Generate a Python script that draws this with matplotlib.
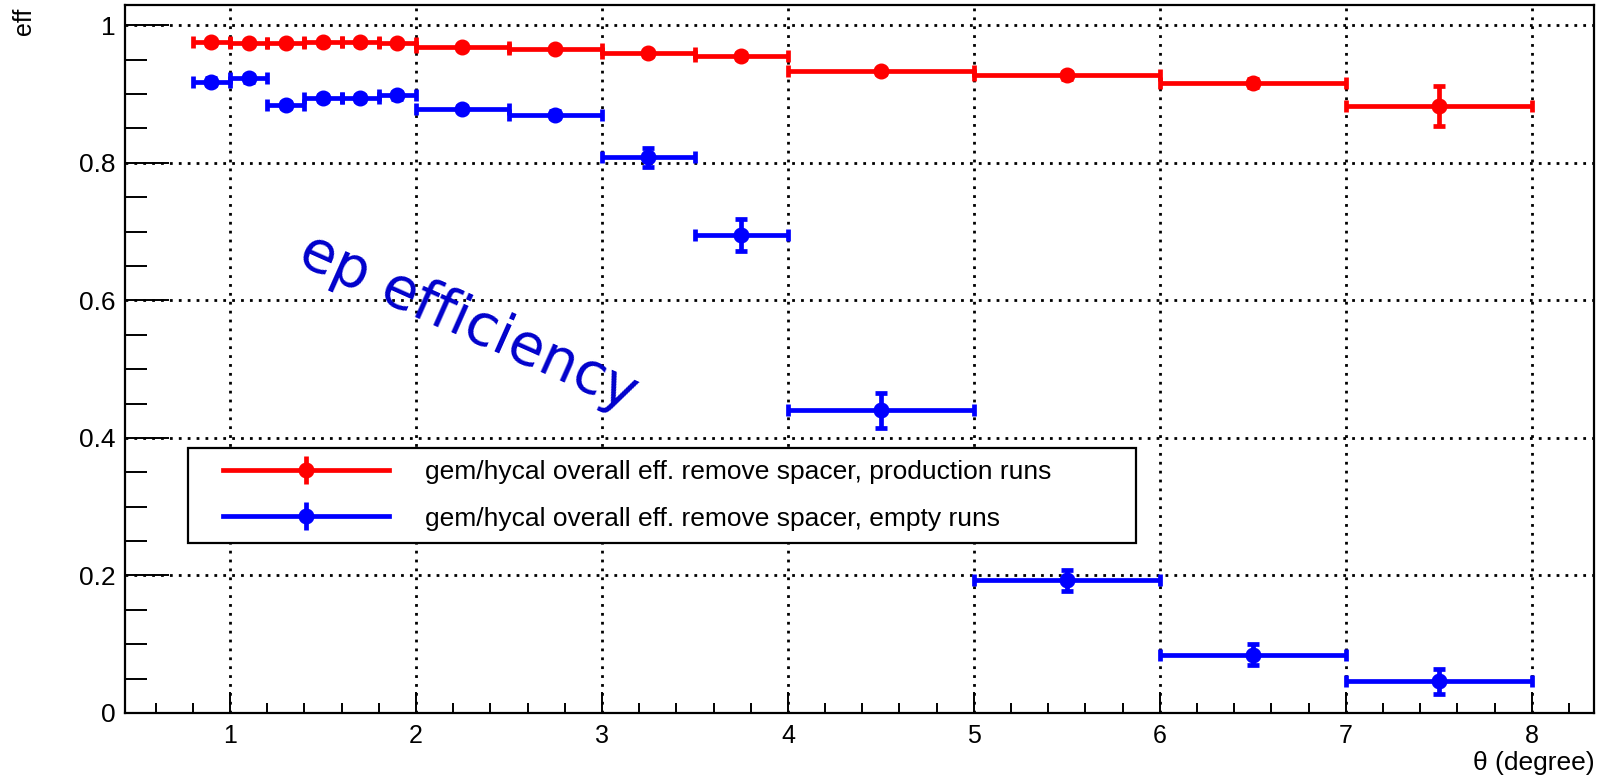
import numpy as np
import matplotlib
matplotlib.use('Agg')
import matplotlib.pyplot as plt
from matplotlib.ticker import MultipleLocator, FuncFormatter
from matplotlib.lines import Line2D
from matplotlib.legend_handler import HandlerTuple
from matplotlib.patches import Rectangle

plt.rcParams['font.family'] = ['Liberation Sans', 'DejaVu Sans']

# theta bins (bin centre and half width)
theta = [0.9, 1.1, 1.3, 1.5, 1.7, 1.9, 2.25, 2.75, 3.25, 3.75, 4.5, 5.5, 6.5, 7.5]
theta_err = [0.1, 0.1, 0.1, 0.1, 0.1, 0.1, 0.25, 0.25, 0.25, 0.25, 0.5, 0.5, 0.5, 0.5]

# production runs
prod_eff = [0.975, 0.974, 0.974, 0.975, 0.975, 0.974, 0.969, 0.965, 0.959, 0.955, 0.933, 0.927, 0.916, 0.882]
prod_err = [0.003, 0.003, 0.003, 0.003, 0.003, 0.003, 0.003, 0.003, 0.004, 0.004, 0.004, 0.005, 0.006, 0.029]

# empty runs
empty_eff = [0.918, 0.923, 0.884, 0.894, 0.894, 0.898, 0.879, 0.870, 0.808, 0.695, 0.440, 0.193, 0.085, 0.046]
empty_err = [0.005, 0.005, 0.004, 0.004, 0.004, 0.005, 0.004, 0.005, 0.014, 0.023, 0.025, 0.015, 0.015, 0.018]

labels = ['gem/hycal overall eff. remove spacer, production runs',
          'gem/hycal overall eff. remove spacer, empty runs']

W, H = 1606, 778
fig = plt.figure(figsize=(W / 100, H / 100), dpi=100)
ax = fig.add_axes([125 / W, 1 - 713 / H, (1594 - 125) / W, (713 - 5) / H])

LW = 3.4
MS = 10.5
for y, yerr, col in [(prod_eff, prod_err, '#ff0000'), (empty_eff, empty_err, '#0000ff')]:
    ax.errorbar(theta, y, xerr=theta_err, yerr=yerr, fmt='none', ecolor=col,
                elinewidth=LW, capsize=4.5, capthick=LW, zorder=3)
    ax.plot(theta, y, 'o', color=col, ms=MS, zorder=4)

ax.set_xlim(0.435, 8.335)
ax.set_ylim(0, 1.0295)

ax.xaxis.set_major_locator(MultipleLocator(1))
ax.xaxis.set_minor_locator(MultipleLocator(0.2))
ax.yaxis.set_major_locator(MultipleLocator(0.2))
ax.yaxis.set_minor_locator(MultipleLocator(0.05))
ax.yaxis.set_major_formatter(FuncFormatter(lambda v, p: '%g' % round(v, 3)))
ax.xaxis.set_major_formatter(FuncFormatter(lambda v, p: '%g' % round(v, 3)))

ax.tick_params(axis='both', which='both', direction='in', top=False, right=False,
               width=1.4)
ax.tick_params(axis='x', which='major', length=15, pad=8, labelsize=18)
ax.tick_params(axis='x', which='minor', length=7.5)
ax.tick_params(axis='y', which='major', length=32, pad=7, labelsize=19)
ax.tick_params(axis='y', which='minor', length=16)

ax.grid(True, which='major', color='black', linestyle=(0, (1, 2.2)), linewidth=2.0, zorder=1)
ax.set_axisbelow(True)
for s in ax.spines.values():
    s.set_linewidth(1.6)

fig.text(24 / W, 1 - 8 / H, 'eff', rotation=90, ha='center', va='top', fontsize=18)
fig.text(1595 / W, 1 - 763 / H, 'θ (degree)', ha='right', va='center', fontsize=19)

ax.text(2.28, 0.568, 'ep efficiency', rotation=-24, rotation_mode='anchor',
        ha='center', va='center', fontsize=41, color='#0000cc',
        family=['DejaVu Sans'], zorder=5)

# legend box
box = Rectangle((188 / W, 1 - 543 / H), (1136 - 188) / W, (543 - 448) / H,
                transform=fig.transFigure, facecolor='white', edgecolor='black',
                linewidth=1.6, zorder=6)
ax.add_patch(box)
box.set_clip_on(False)

handles = []
for col in ['#ff0000', '#0000ff']:
    h1 = Line2D([], [], color=col, lw=LW, marker='o', ms=MS)
    h2 = Line2D([], [], color=col, lw=0, marker='|', ms=20, mew=LW)
    handles.append((h1, h2))
leg = ax.legend(handles, labels, handler_map={tuple: HandlerTuple(ndivide=1)},
                loc='center left', bbox_to_anchor=(223 / W, 1 - 495.5 / H),
                bbox_transform=fig.transFigure, frameon=False, borderpad=0,
                borderaxespad=0, fontsize=19, handlelength=6.3,
                handletextpad=1.36, labelspacing=0.84)
leg.set_zorder(7)

fig.savefig('out.png', dpi=100)
